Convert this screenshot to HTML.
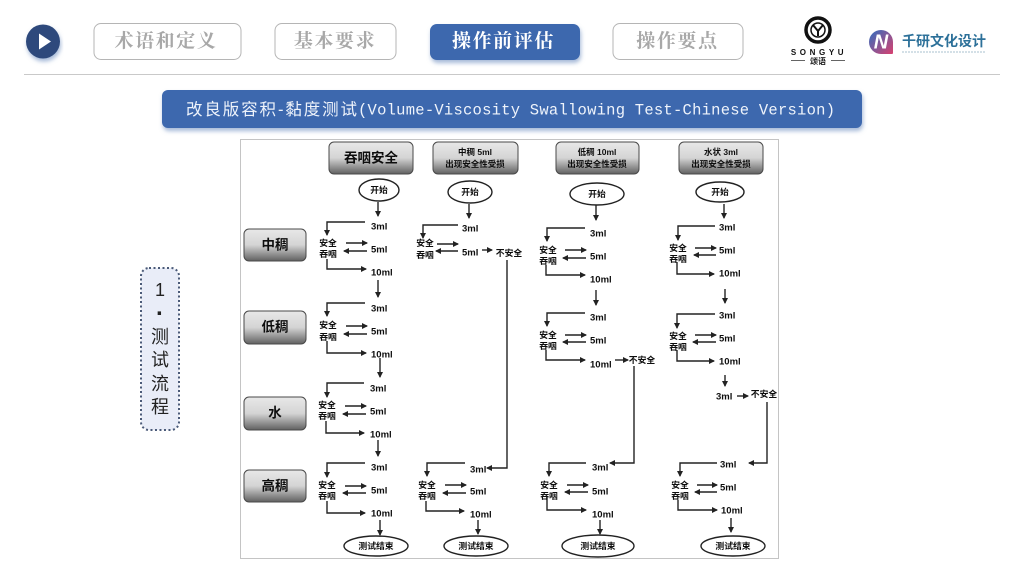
<!DOCTYPE html>
<html lang="zh"><head><meta charset="utf-8"><title>改良版容积-黏度测试</title>
<style>
html,body{margin:0;padding:0;background:#fff;width:1024px;height:576px;overflow:hidden}
svg{display:block}
.n{font:700 19px "Liberation Serif","Noto Serif CJK SC",serif;fill:#a8a8a8;text-anchor:middle;letter-spacing:1.6px}
.l{fill:none;stroke:#222;stroke-width:1.4;marker-end:url(#a)}
.m{font:700 9.5px "Liberation Sans",sans-serif;fill:#111;dominant-baseline:central}
.c{font:700 8.8px "Liberation Sans","Noto Sans CJK SC",sans-serif;fill:#111;text-anchor:middle;dominant-baseline:central}
.h{font:700 8.5px "Liberation Sans","Noto Sans CJK SC",sans-serif;fill:#111;text-anchor:middle;dominant-baseline:central}
.b{font:700 13.5px "Liberation Sans","Noto Sans CJK SC",sans-serif;fill:#111;text-anchor:middle;dominant-baseline:central}
.e{fill:#fff;stroke:#222;stroke-width:1.4}
.g{fill:url(#gr);stroke:#4a4a4a;stroke-width:1}
.s{font:400 18px "Liberation Sans","Noto Sans CJK SC",sans-serif;fill:#222;text-anchor:middle;dominant-baseline:central}
</style></head><body>
<svg width="1024" height="576" viewBox="0 0 1024 576" xmlns="http://www.w3.org/2000/svg">
<defs>
<marker id="a" markerWidth="7" markerHeight="7" refX="5" refY="3" orient="auto" markerUnits="userSpaceOnUse"><path d="M0 0L6 3L0 6Z" fill="#222"/></marker>
<linearGradient id="gr" x1="0" y1="0" x2="0" y2="1"><stop offset="0" stop-color="#e8e8e8"/><stop offset=".5" stop-color="#d4d4d4"/><stop offset="1" stop-color="#606060"/></linearGradient>
<linearGradient id="nl" x1="0" y1="0" x2="1" y2="1"><stop offset="0" stop-color="#2f6fc0"/><stop offset="1" stop-color="#d8406f"/></linearGradient>
<filter id="sh" x="-10%" y="-30%" width="120%" height="170%"><feDropShadow dx="1" dy="3" stdDeviation="2" flood-color="#5b7fb8" flood-opacity=".55"/></filter>
<filter id="bl"><feGaussianBlur stdDeviation=".35"/></filter>
</defs>

<!-- top nav -->
<circle cx="43" cy="41.500" r="17" fill="#2f4a7c" filter="url(#sh)"/>
<path d="M39 33.500L51 41.500L39 49.500Z" fill="#fff"/>
<rect x="94" y="23.500" width="147" height="36" rx="7" fill="#fff" stroke="#b5b5b5"/>
<text class="n" x="166" y="47">术语和定义</text>
<rect x="275" y="23.500" width="121" height="36" rx="7" fill="#fff" stroke="#b5b5b5"/>
<text class="n" x="335" y="47">基本要求</text>
<rect x="430" y="24" width="150" height="36" rx="7" fill="#3c68ae" filter="url(#sh)"/>
<text class="n" x="503.500" y="47" style="fill:#fff">操作前评估</text>
<rect x="613" y="23.500" width="130" height="36" rx="7" fill="#fff" stroke="#b5b5b5"/>
<text class="n" x="677.500" y="47">操作要点</text>

<!-- logos -->
<circle cx="818" cy="30" r="12" fill="#fff" stroke="#111" stroke-width="3.500"/>
<circle cx="818" cy="30" r="7" fill="none" stroke="#111" stroke-width="1.500"/>
<path d="M813 25L818 31L823 25M818 31V36" fill="none" stroke="#111" stroke-width="2"/>
<text x="819" y="55" text-anchor="middle" style="font:700 8px 'Liberation Sans',sans-serif;letter-spacing:3.600px" fill="#111">SONGYU</text>
<text x="818" y="64" text-anchor="middle" style="font:700 8px 'Liberation Sans','Noto Sans CJK SC',sans-serif" fill="#222">颂语</text>
<path d="M791 60.500H805M831 60.500H845" stroke="#333" stroke-width=".8"/>
<path d="M881 30a12 12 0 1 0 0 24h11a1 1 0 0 0 1-1v-11a12 12 0 0 0-12-12Z" fill="url(#nl)"/>
<text x="881" y="48.500" text-anchor="middle" style="font:italic 700 20px 'Liberation Sans',sans-serif" fill="#fff">N</text>
<text x="902" y="46" style="font:700 14px 'Liberation Sans','Noto Sans CJK SC',sans-serif" fill="#2c7099" textLength="84" lengthAdjust="spacing">千研文化设计</text>
<path d="M902 52H986" stroke="#a9c0cf" stroke-width="1" stroke-dasharray="2 1"/>

<path d="M24 74.500H1000" stroke="#c9c9c9"/>

<!-- title bar -->
<rect x="162" y="90" width="700" height="38" rx="6" fill="#3c68ae" filter="url(#sh)"/>
<text x="186" y="115" textLength="171" lengthAdjust="spacing" style="font:400 16.500px 'Liberation Sans','Noto Sans CJK SC',sans-serif" fill="#eef3fb">改良版容积-黏度测试</text>
<text x="358" y="114.500" textLength="477" lengthAdjust="spacing" style="font:400 15.500px 'Liberation Mono',monospace" fill="#eef3fb">(Volume-Viscosity Swallowing Test-Chinese Version)</text>

<!-- side label -->
<rect x="141" y="268" width="38" height="162" rx="8" fill="#e9edf8" stroke="#4a5a78" stroke-width="2" stroke-dasharray="2 2.500"/>
<text class="s" x="160" y="290">1</text>
<text class="s" x="160" y="314" style="font-weight:700;font-size:24px">·</text>
<text class="s" x="160" y="337">测</text>
<text class="s" x="160" y="360">试</text>
<text class="s" x="160" y="384">流</text>
<text class="s" x="160" y="407">程</text>

<!-- diagram -->
<rect x="240.500" y="139.500" width="538" height="419" fill="#fff" stroke="#c4c4c4"/>
<g filter="url(#bl)">
<rect class="g" x="329" y="142" width="84" height="32" rx="5"/><text class="b" x="371" y="158">吞咽安全</text>
<rect class="g" x="433" y="142" width="85" height="32" rx="5"/><text class="h" x="475" y="152">中稠 5ml</text><text class="h" x="475" y="164">出现安全性受损</text>
<rect class="g" x="556" y="142" width="83" height="32" rx="5"/><text class="h" x="597" y="152">低稠 10ml</text><text class="h" x="597" y="164">出现安全性受损</text>
<rect class="g" x="679" y="142" width="84" height="32" rx="5"/><text class="h" x="721" y="152">水状 3ml</text><text class="h" x="721" y="164">出现安全性受损</text>

<rect class="g" x="244" y="229" width="62" height="32" rx="5"/><text class="b" x="275" y="245">中稠</text>
<rect class="g" x="244" y="311" width="62" height="33" rx="5"/><text class="b" x="275" y="327">低稠</text>
<rect class="g" x="244" y="397" width="62" height="33" rx="5"/><text class="b" x="275" y="413">水</text>
<rect class="g" x="244" y="470" width="62" height="32" rx="5"/><text class="b" x="275" y="486">高稠</text>

<!-- start ellipses -->
<ellipse class="e" cx="379" cy="190" rx="20" ry="11"/><text class="c" x="379" y="190">开始</text>
<ellipse class="e" cx="470" cy="192" rx="22" ry="11"/><text class="c" x="470" y="192">开始</text>
<ellipse class="e" cx="597" cy="194" rx="27" ry="11"/><text class="c" x="597" y="194">开始</text>
<ellipse class="e" cx="720" cy="192" rx="24" ry="10"/><text class="c" x="720" y="192">开始</text>
<!-- end ellipses -->
<ellipse class="e" cx="376" cy="546" rx="32" ry="10"/><text class="c" x="376" y="546">测试结束</text>
<ellipse class="e" cx="476" cy="546" rx="32" ry="10"/><text class="c" x="476" y="546">测试结束</text>
<ellipse class="e" cx="598" cy="546" rx="36" ry="11"/><text class="c" x="598" y="546">测试结束</text>
<ellipse class="e" cx="733" cy="546" rx="32" ry="10"/><text class="c" x="733" y="546">测试结束</text>

<!-- vertical arrows -->
<path class="l" d="M378 202V216"/><path class="l" d="M469 204V218"/><path class="l" d="M596 205V220"/><path class="l" d="M724 204V218"/>
<path class="l" d="M378 280V297"/><path class="l" d="M380 358V377"/><path class="l" d="M378 440V456"/><path class="l" d="M380 520V535"/>
<path class="l" d="M478 520V534"/><path class="l" d="M596 290V305"/><path class="l" d="M600 520V534"/>
<path class="l" d="M725 289V303"/><path class="l" d="M725 375V386"/><path class="l" d="M731 518V532"/>

<!-- column 1 -->
<path class="l" d="M365 222H327V235"/><path class="l" d="M327 259V269H366"/><path class="l" d="M346 243H367"/><path class="l" d="M367 251H344"/>
<text class="m" x="371" y="227">3ml</text><text class="m" x="371" y="250">5ml</text><text class="m" x="371" y="273">10ml</text>
<text class="c" x="328" y="243">安全</text><text class="c" x="328" y="254">吞咽</text>

<path class="l" d="M365 303H327V316"/><path class="l" d="M327 341V353H366"/><path class="l" d="M346 326H367"/><path class="l" d="M367 334H344"/>
<text class="m" x="371" y="309">3ml</text><text class="m" x="371" y="332">5ml</text><text class="m" x="371" y="355">10ml</text>
<text class="c" x="328" y="325">安全</text><text class="c" x="328" y="337">吞咽</text>

<path class="l" d="M364 383H327V397"/><path class="l" d="M326 421V433H364"/><path class="l" d="M345 406H366"/><path class="l" d="M366 414H343"/>
<text class="m" x="370" y="389">3ml</text><text class="m" x="370" y="412">5ml</text><text class="m" x="370" y="435">10ml</text>
<text class="c" x="327" y="405">安全</text><text class="c" x="327" y="416">吞咽</text>

<path class="l" d="M365 463H327V477"/><path class="l" d="M327 501V513H365"/><path class="l" d="M345 486H366"/><path class="l" d="M366 493H343"/>
<text class="m" x="371" y="468">3ml</text><text class="m" x="371" y="491">5ml</text><text class="m" x="371" y="514">10ml</text>
<text class="c" x="327" y="485">安全</text><text class="c" x="327" y="496">吞咽</text>

<!-- column 2 -->
<path class="l" d="M458 225H423V238"/><path class="l" d="M437 244H458"/><path class="l" d="M458 251H436"/><path class="l" d="M482 250H492"/>
<text class="m" x="462" y="229">3ml</text><text class="m" x="462" y="253">5ml</text>
<text class="c" x="509" y="253">不安全</text>
<text class="c" x="425" y="243">安全</text><text class="c" x="425" y="255">吞咽</text>
<path class="l" d="M507 260V468H487"/>

<path class="l" d="M465 463H427V476"/><path class="l" d="M426 501V511H464"/><path class="l" d="M445 485H466"/><path class="l" d="M466 493H443"/>
<text class="m" x="470" y="470">3ml</text><text class="m" x="470" y="492">5ml</text><text class="m" x="470" y="515">10ml</text>
<text class="c" x="427" y="485">安全</text><text class="c" x="427" y="496">吞咽</text>

<!-- column 3 -->
<path class="l" d="M585 228H547V241"/><path class="l" d="M546 265V275H585"/><path class="l" d="M565 250H586"/><path class="l" d="M586 258H563"/>
<text class="m" x="590" y="234">3ml</text><text class="m" x="590" y="257">5ml</text><text class="m" x="590" y="280">10ml</text>
<text class="c" x="548" y="250">安全</text><text class="c" x="548" y="261">吞咽</text>

<path class="l" d="M585 313H547V326"/><path class="l" d="M546 350V360H585"/><path class="l" d="M565 335H586"/><path class="l" d="M586 342H563"/>
<text class="m" x="590" y="318">3ml</text><text class="m" x="590" y="341">5ml</text><text class="m" x="590" y="365">10ml</text>
<text class="c" x="548" y="335">安全</text><text class="c" x="548" y="346">吞咽</text>
<path class="l" d="M615 360H628"/><text class="c" x="642" y="360">不安全</text>
<path class="l" d="M634 366V463H610"/>

<path class="l" d="M586 463H549V476"/><path class="l" d="M547 496V510H586"/><path class="l" d="M567 485H588"/><path class="l" d="M588 492H565"/>
<text class="m" x="592" y="468">3ml</text><text class="m" x="592" y="492">5ml</text><text class="m" x="592" y="515">10ml</text>
<text class="c" x="549" y="485">安全</text><text class="c" x="549" y="496">吞咽</text>

<!-- column 4 -->
<path class="l" d="M715 226H678V240"/><path class="l" d="M677 262V274H714"/><path class="l" d="M695 248H716"/><path class="l" d="M716 255H694"/>
<text class="m" x="719" y="228">3ml</text><text class="m" x="719" y="251">5ml</text><text class="m" x="719" y="274">10ml</text>
<text class="c" x="678" y="248">安全</text><text class="c" x="678" y="259">吞咽</text>

<path class="l" d="M715 314H677V328"/><path class="l" d="M677 350V361H714"/><path class="l" d="M695 335H716"/><path class="l" d="M716 342H693"/>
<text class="m" x="719" y="316">3ml</text><text class="m" x="719" y="339">5ml</text><text class="m" x="719" y="362">10ml</text>
<text class="c" x="678" y="336">安全</text><text class="c" x="678" y="347">吞咽</text>

<text class="m" x="716" y="397">3ml</text><path class="l" d="M737 396H748"/><text class="c" x="764" y="394">不安全</text>
<path class="l" d="M767 402V463H749"/>

<path class="l" d="M717 463H680V476"/><path class="l" d="M678 500V510H717"/><path class="l" d="M697 485H717"/><path class="l" d="M717 492H695"/>
<text class="m" x="720" y="465">3ml</text><text class="m" x="720" y="488">5ml</text><text class="m" x="721" y="511">10ml</text>
<text class="c" x="680" y="485">安全</text><text class="c" x="680" y="496">吞咽</text>
</g>
</svg>
</body></html>
